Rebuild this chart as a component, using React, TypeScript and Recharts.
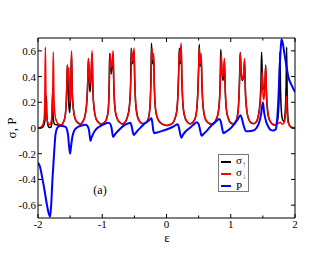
import React from 'react'
import { LineChart, Line, XAxis, YAxis } from 'recharts'

// sigma up (black)
const sigmaUp: [number, number][] = [
  [-2, 0], [-1.95, 0.002], [-1.92, 0.01], [-1.895, 0.05], [-1.88, 0.15], [-1.87, 0.25], [-1.86, 0.08],
  [-1.84, 0.015], [-1.82, 0.004], [-1.8, 0.005], [-1.785, 0.04], [-1.775, 0.27], [-1.765, 0.1],
  [-1.745, 0.03], [-1.71, 0.025], [-1.68, 0.024], [-1.65, 0.023], [-1.62, 0.031],
  [-1.6, 0.05], [-1.575, 0.1], [-1.56, 0.2], [-1.55, 0.36], [-1.543, 0.49], [-1.53, 0.3], [-1.515, 0.15],
  [-1.505, 0.12], [-1.493, 0.25], [-1.478, 0.58], [-1.468, 0.3], [-1.45, 0.15], [-1.42, 0.07],
  [-1.38, 0.042], [-1.34, 0.032],
  [-1.3, 0.052], [-1.265, 0.105], [-1.24, 0.21], [-1.228, 0.33], [-1.215, 0.54], [-1.2, 0.35], [-1.19, 0.28],
  [-1.175, 0.38], [-1.158, 0.58], [-1.145, 0.28], [-1.125, 0.14], [-1.1, 0.076], [-1.06, 0.044], [-1.02, 0.031],
  [-0.98, 0.037], [-0.94, 0.063], [-0.91, 0.125], [-0.895, 0.27], [-0.885, 0.58], [-0.872, 0.5], [-0.86, 0.42],
  [-0.845, 0.5], [-0.831, 0.58], [-0.82, 0.32], [-0.8, 0.14], [-0.77, 0.075], [-0.73, 0.044], [-0.69, 0.032],
  [-0.65, 0.042], [-0.61, 0.085], [-0.58, 0.16], [-0.56, 0.32], [-0.55, 0.62], [-0.535, 0.5], [-0.52, 0.52],
  [-0.505, 0.6], [-0.495, 0.38], [-0.48, 0.19], [-0.455, 0.095], [-0.42, 0.053], [-0.38, 0.035], [-0.34, 0.037],
  [-0.3, 0.053], [-0.27, 0.105], [-0.252, 0.22], [-0.242, 0.4], [-0.234, 0.66], [-0.222, 0.52], [-0.212, 0.5],
  [-0.2, 0.56], [-0.19, 0.33], [-0.17, 0.14], [-0.14, 0.075], [-0.1, 0.043], [-0.05, 0.027], [0, 0.019],
  [0.05, 0.025], [0.1, 0.041],
  [0.13, 0.072], [0.16, 0.135], [0.178, 0.27], [0.19, 0.45], [0.2, 0.62], [0.212, 0.5], [0.226, 0.64],
  [0.24, 0.37], [0.255, 0.18], [0.28, 0.095], [0.32, 0.048], [0.37, 0.033], [0.42, 0.052],
  [0.45, 0.083], [0.475, 0.165], [0.49, 0.32], [0.502, 0.5], [0.51, 0.65], [0.522, 0.48], [0.54, 0.55],
  [0.552, 0.33], [0.57, 0.16], [0.6, 0.076], [0.64, 0.044], [0.7, 0.031], [0.75, 0.047],
  [0.78, 0.074], [0.81, 0.14], [0.83, 0.27], [0.838, 0.45], [0.845, 0.61], [0.86, 0.45], [0.878, 0.37],
  [0.892, 0.42], [0.902, 0.52], [0.915, 0.28], [0.935, 0.13], [0.96, 0.076], [1.0, 0.039], [1.04, 0.033],
  [1.08, 0.053],
  [1.1, 0.085], [1.12, 0.17], [1.133, 0.32], [1.14, 0.45], [1.147, 0.59], [1.16, 0.44], [1.18, 0.37],
  [1.2, 0.4], [1.215, 0.52], [1.228, 0.28], [1.25, 0.135], [1.28, 0.068], [1.32, 0.039], [1.36, 0.034],
  [1.4, 0.05],
  [1.43, 0.1], [1.455, 0.2], [1.47, 0.35], [1.48, 0.59], [1.492, 0.4], [1.51, 0.3], [1.53, 0.32],
  [1.543, 0.49], [1.555, 0.27], [1.575, 0.12], [1.6, 0.065], [1.64, 0.034], [1.68, 0.024], [1.71, 0.03],
  [1.73, 0.06], [1.75, 0.2], [1.765, 0.59], [1.775, 0.3], [1.79, 0.12], [1.81, 0.06], [1.83, 0.05],
  [1.85, 0.15], [1.862, 0.35], [1.87, 0.63], [1.88, 0.2], [1.9, 0.04], [1.93, 0.01], [1.96, 0.002], [2, 0],
]

// sigma down (red)
const sigmaDown: [number, number][] = [
  [-2, 0], [-1.96, 0.005], [-1.93, 0.02], [-1.905, 0.07], [-1.895, 0.2], [-1.885, 0.63], [-1.875, 0.2],
  [-1.86, 0.07], [-1.84, 0.035], [-1.82, 0.025], [-1.8, 0.04], [-1.78, 0.12], [-1.77, 0.3], [-1.762, 0.59],
  [-1.752, 0.25], [-1.735, 0.1], [-1.71, 0.05], [-1.68, 0.03], [-1.65, 0.022], [-1.62, 0.03],
  [-1.6, 0.05], [-1.575, 0.1], [-1.56, 0.2], [-1.55, 0.35], [-1.543, 0.49], [-1.532, 0.38], [-1.52, 0.47],
  [-1.505, 0.19], [-1.49, 0.3], [-1.478, 0.6], [-1.468, 0.3], [-1.45, 0.15], [-1.42, 0.07], [-1.38, 0.04],
  [-1.34, 0.03],
  [-1.3, 0.05], [-1.265, 0.1], [-1.24, 0.2], [-1.228, 0.32], [-1.215, 0.54], [-1.2, 0.4], [-1.19, 0.34],
  [-1.175, 0.42], [-1.158, 0.6], [-1.145, 0.3], [-1.125, 0.15], [-1.1, 0.08], [-1.06, 0.045], [-1.02, 0.03],
  [-0.98, 0.035], [-0.94, 0.06], [-0.91, 0.12], [-0.895, 0.25], [-0.885, 0.42], [-0.878, 0.58], [-0.868, 0.5],
  [-0.855, 0.47], [-0.842, 0.52], [-0.831, 0.6], [-0.82, 0.35], [-0.8, 0.15], [-0.77, 0.08], [-0.73, 0.045],
  [-0.69, 0.032],
  [-0.65, 0.04], [-0.61, 0.08], [-0.58, 0.15], [-0.56, 0.3], [-0.548, 0.48], [-0.54, 0.6], [-0.528, 0.52],
  [-0.515, 0.55], [-0.505, 0.62], [-0.495, 0.4], [-0.48, 0.2], [-0.455, 0.1], [-0.42, 0.055], [-0.38, 0.035],
  [-0.34, 0.035],
  [-0.3, 0.05], [-0.27, 0.1], [-0.252, 0.2], [-0.24, 0.38], [-0.228, 0.62], [-0.215, 0.53], [-0.2, 0.58],
  [-0.19, 0.35], [-0.17, 0.15], [-0.14, 0.08], [-0.1, 0.045], [-0.05, 0.028], [0, 0.02], [0.05, 0.025],
  [0.1, 0.04],
  [0.13, 0.07], [0.16, 0.13], [0.178, 0.25], [0.19, 0.42], [0.2, 0.6], [0.212, 0.52], [0.228, 0.66],
  [0.24, 0.4], [0.255, 0.2], [0.28, 0.1], [0.32, 0.05], [0.37, 0.032], [0.42, 0.05],
  [0.45, 0.08], [0.475, 0.16], [0.49, 0.3], [0.5, 0.45], [0.51, 0.62], [0.525, 0.5], [0.54, 0.58],
  [0.552, 0.35], [0.57, 0.17], [0.6, 0.08], [0.64, 0.045], [0.7, 0.03], [0.75, 0.045],
  [0.78, 0.07], [0.81, 0.13], [0.83, 0.25], [0.842, 0.42], [0.852, 0.58], [0.862, 0.47], [0.875, 0.4],
  [0.89, 0.45], [0.902, 0.54], [0.915, 0.3], [0.935, 0.14], [0.96, 0.08], [1.0, 0.04], [1.04, 0.032],
  [1.08, 0.05],
  [1.1, 0.08], [1.12, 0.16], [1.133, 0.3], [1.143, 0.45], [1.15, 0.58], [1.162, 0.45], [1.18, 0.38],
  [1.2, 0.42], [1.215, 0.54], [1.228, 0.3], [1.25, 0.14], [1.28, 0.07], [1.32, 0.04], [1.36, 0.035],
  [1.4, 0.05],
  [1.43, 0.09], [1.455, 0.17], [1.472, 0.28], [1.49, 0.44], [1.5, 0.28], [1.515, 0.22], [1.53, 0.3],
  [1.545, 0.48], [1.555, 0.3], [1.575, 0.14], [1.6, 0.07], [1.64, 0.035], [1.68, 0.025], [1.72, 0.03],
  [1.75, 0.04], [1.77, 0.045], [1.8, 0.03], [1.83, 0.04], [1.85, 0.09], [1.858, 0.16], [1.866, 0.25],
  [1.875, 0.15], [1.89, 0.05], [1.92, 0.015], [1.96, 0.004], [2, 0],
]

// polarization P (blue)
const polarization: [number, number][] = [
  [-2, -0.27], [-1.97, -0.3], [-1.94, -0.37], [-1.9, -0.48], [-1.86, -0.6], [-1.83, -0.67], [-1.812, -0.69],
  [-1.795, -0.6], [-1.775, -0.4], [-1.75, -0.2], [-1.73, -0.06], [-1.71, -0.01], [-1.68, 0.012],
  [-1.646, 0.018], [-1.61, 0.015], [-1.568, 0.008], [-1.545, -0.02], [-1.53, -0.066], [-1.515, -0.15],
  [-1.5, -0.2], [-1.485, -0.14], [-1.464, -0.066], [-1.44, -0.025], [-1.42, -0.008], [-1.38, 0.008],
  [-1.335, 0.018], [-1.29, 0.023], [-1.257, 0.026], [-1.23, 0.015], [-1.205, -0.02], [-1.19, -0.08],
  [-1.182, -0.1], [-1.17, -0.08], [-1.15, -0.055], [-1.12, -0.025], [-1.08, -0.002], [-1.03, 0.015],
  [-0.97, 0.03], [-0.91, 0.04], [-0.88, 0.035], [-0.855, 0], [-0.84, -0.05], [-0.83, -0.07],
  [-0.81, -0.055], [-0.77, -0.03], [-0.72, -0.005], [-0.66, 0.02], [-0.6, 0.035], [-0.565, 0.04],
  [-0.545, 0.02], [-0.525, -0.03], [-0.51, -0.055], [-0.49, -0.045], [-0.45, -0.02], [-0.4, 0.005],
  [-0.34, 0.035], [-0.27, 0.06], [-0.235, 0.075], [-0.22, 0.04], [-0.205, -0.02], [-0.19, -0.04],
  [-0.15, -0.035], [-0.1, -0.028], [-0.05, -0.02], [0, -0.012], [0.06, 0], [0.12, 0.015], [0.175, 0.03],
  [0.195, 0], [0.215, -0.05], [0.232, -0.075], [0.26, -0.05], [0.3, -0.025], [0.36, 0], [0.42, 0.025],
  [0.47, 0.045], [0.5, 0.03], [0.525, -0.02], [0.545, -0.06], [0.58, -0.045], [0.63, -0.02], [0.7, 0.02],
  [0.77, 0.05], [0.82, 0.07], [0.845, 0.05], [0.865, 0], [0.885, -0.04], [0.92, -0.03], [0.98, -0.01],
  [1.04, 0.02], [1.1, 0.06], [1.153, 0.1], [1.175, 0.07], [1.2, 0.02], [1.235, -0.025], [1.28, -0.025],
  [1.35, -0.02], [1.4, 0], [1.44, 0.04], [1.47, 0.1], [1.5, 0.2], [1.52, 0.12], [1.55, 0.05], [1.585, 0.01],
  [1.62, -0.015], [1.66, -0.02], [1.7, -0.01], [1.715, 0.03], [1.74, 0.21], [1.76, 0.45], [1.778, 0.62],
  [1.79, 0.69], [1.81, 0.66], [1.835, 0.58], [1.86, 0.5], [1.9, 0.39], [1.95, 0.33], [2, 0.28],
]

const xTicks = [-2, -1.5, -1, -0.5, 0, 0.5, 1, 1.5, 2]
const yTicks = [-0.6, -0.5, -0.4, -0.3, -0.2, -0.1, 0, 0.1, 0.2, 0.3, 0.4, 0.5, 0.6]

const FONT = '"Liberation Serif", "DejaVu Serif", serif'

const toPoints = (rows: [number, number][]) => rows.map(([x, y]) => ({ x, y }))

const fmt = (v: number) => String(Math.round(v * 10) / 10)
const isMajorX = (v: number) => Math.abs(v - Math.round(v)) < 1e-6
const isMajorY = (v: number) => Math.abs(v * 5 - Math.round(v * 5)) < 1e-6

// ticks point into the plot, like the original figure
const BottomTick = ({ x, y, payload }: any) => {
  const major = isMajorX(payload.value)
  return (
    <g>
      <line x1={x} x2={x} y1={y} y2={y - (major ? 4 : 2.5)} stroke="#000" />
      {major && (
        <text x={x} y={y + 10} textAnchor="middle" fontSize={11} fontFamily={FONT} fill="#000">
          {fmt(payload.value)}
        </text>
      )}
    </g>
  )
}

const TopTick = ({ x, y, payload }: any) => {
  const major = isMajorX(payload.value)
  return <line x1={x} x2={x} y1={y} y2={y + (major ? 4 : 2.5)} stroke="#000" />
}

const LeftTick = ({ x, y, payload }: any) => {
  const major = isMajorY(payload.value)
  return (
    <g>
      <line x1={x} x2={x + (major ? 4 : 2.5)} y1={y} y2={y} stroke="#000" />
      {major && (
        <text x={x - 2} y={y + 4} textAnchor="end" fontSize={11} fontFamily={FONT} fill="#000">
          {fmt(payload.value)}
        </text>
      )}
    </g>
  )
}

const RightTick = ({ x, y, payload }: any) => {
  const major = isMajorY(payload.value)
  return <line x1={x} x2={x - (major ? 4 : 2.5)} y1={y} y2={y} stroke="#000" />
}

const legendRows = [
  { color: '#000000', name: 'σ', sub: '↑' },
  { color: '#ff0000', name: 'σ', sub: '↓' },
  { color: '#0000ff', name: 'P', sub: '' },
]

export default function App() {
  return (
    <div style={{ position: 'absolute', left: 0, top: 0, width: 332, height: 257, background: '#fff', fontFamily: FONT }}>
      <LineChart width={332} height={257} margin={{ top: 37, right: 36, bottom: 9, left: 8 }}>
        <XAxis
          xAxisId="bottom"
          dataKey="x"
          type="number"
          domain={[-2, 2]}
          ticks={xTicks}
          height={30}
          tickSize={0}
          tickMargin={0}
          tickLine={false}
          axisLine={{ stroke: '#000' }}
          tick={<BottomTick />}
          allowDataOverflow
        />
        <XAxis
          xAxisId="top"
          orientation="top"
          dataKey="x"
          type="number"
          domain={[-2, 2]}
          ticks={xTicks}
          height={1}
          tickSize={0}
          tickMargin={0}
          tickLine={false}
          axisLine={{ stroke: '#000' }}
          tick={<TopTick />}
          allowDataOverflow
        />
        <YAxis
          yAxisId="left"
          type="number"
          domain={[-0.7, 0.7]}
          ticks={yTicks}
          width={30}
          tickSize={0}
          tickMargin={0}
          tickLine={false}
          axisLine={{ stroke: '#000' }}
          tick={<LeftTick />}
          allowDataOverflow
        />
        <YAxis
          yAxisId="right"
          orientation="right"
          type="number"
          domain={[-0.7, 0.7]}
          ticks={yTicks}
          width={1}
          tickSize={0}
          tickMargin={0}
          tickLine={false}
          axisLine={{ stroke: '#000' }}
          tick={<RightTick />}
          allowDataOverflow
        />
        <Line
          xAxisId="bottom"
          yAxisId="left"
          data={toPoints(sigmaUp)}
          dataKey="y"
          type="monotone"
          stroke="#000000"
          strokeWidth={1.5}
          dot={false}
          isAnimationActive={false}
        />
        <Line
          xAxisId="bottom"
          yAxisId="left"
          data={toPoints(sigmaDown)}
          dataKey="y"
          type="monotone"
          stroke="#ff0000"
          strokeWidth={1.5}
          dot={false}
          isAnimationActive={false}
        />
        <Line
          xAxisId="bottom"
          yAxisId="left"
          data={toPoints(polarization)}
          dataKey="y"
          type="monotone"
          stroke="#0000ff"
          strokeWidth={2}
          dot={false}
          isAnimationActive={false}
        />
      </LineChart>

      {/* axis titles */}
      <div
        style={{
          position: 'absolute',
          left: 11,
          top: 128,
          transform: 'translate(-50%, -50%) rotate(-90deg)',
          fontSize: 13,
          lineHeight: '13px',
          whiteSpace: 'nowrap',
        }}
      >
        σ, P
      </div>
      <div
        style={{
          position: 'absolute',
          left: 167,
          top: 237,
          transform: 'translate(-50%, -50%)',
          fontSize: 13,
          lineHeight: '9px',
        }}
      >
        ε
      </div>
      <div style={{ position: 'absolute', left: 100, top: 190, transform: 'translate(-50%, -50%)', fontSize: 12, lineHeight: '12px' }}>
        (a)
      </div>

      {/* legend */}
      <div
        style={{
          position: 'absolute',
          left: 218,
          top: 154,
          width: 31,
          height: 38,
          border: '1px solid #777',
          background: '#fff',
          boxSizing: 'border-box',
          paddingTop: 1,
        }}
      >
        {legendRows.map((r) => (
          <div key={r.name + r.sub} style={{ display: 'flex', alignItems: 'center', height: 12, fontSize: 11, lineHeight: '12px' }}>
            <span style={{ display: 'inline-block', width: 10, height: 2, background: r.color, marginLeft: 2, marginRight: 5 }} />
            <span>
              {r.name}
              {r.sub && <sub style={{ fontSize: 8, color: '#555', verticalAlign: '-3px' }}>{r.sub}</sub>}
            </span>
          </div>
        ))}
      </div>
    </div>
  )
}
